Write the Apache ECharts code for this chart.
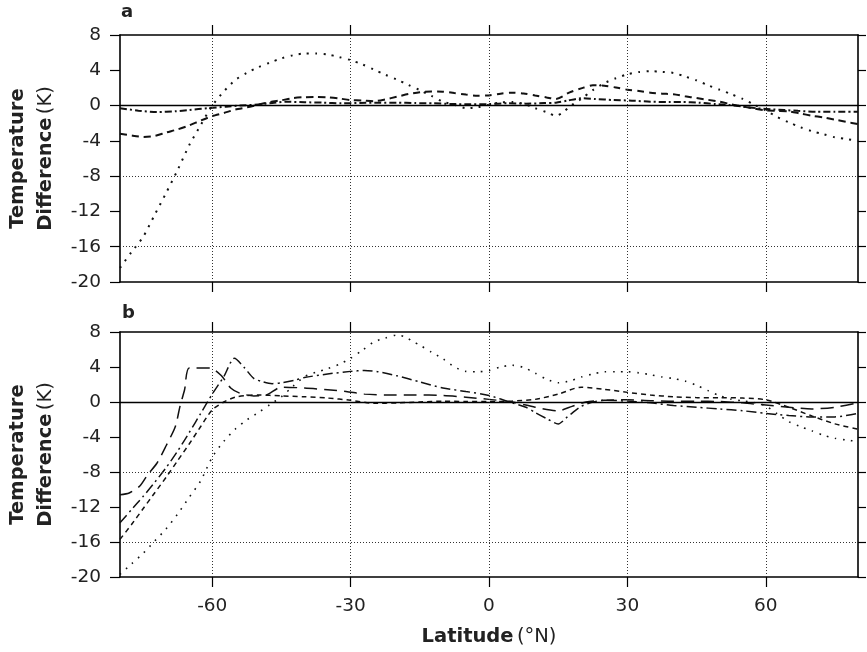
<!DOCTYPE html>
<html>
<head>
<meta charset="utf-8">
<script src="https://cdn.jsdelivr.net/npm/echarts@6.0.0/dist/echarts.min.js"></script>
<style>
  html, body { margin: 0; padding: 0; background: #fff; }
  #main { width: 867px; height: 652px; }
</style>
</head>
<body>
<div id="main"></div>
<script>
// tick positions
var latTicks = [-60, -30, 0, 30, 60];
var gridLinesY = [-8, -16];

// ---- panel a ----
var latA_dot = [-80,-77.5,-75,-72.5,-70,-67.5,-65,-62.5,-60,-57.5,-55,-52.5,-50,-47.5,-45,-42.5,-40,-37.5,-35,-32.5,-30,-27.5,-25,-22.5,-20,-17.5,-15,-12.5,-10,-7.5,-5,-2.5,0,2.5,5,7.5,10,12.5,14.5,16,17.5,20,22.5,25,27.5,30,32.5,35,37.5,40,42.5,45,47.5,50,52.5,55,57.5,60,62.5,65,67.5,70,72.5,75,77.5,80];
var valA_dot = [-18.4,-16.6,-14.9,-12.4,-9.9,-7.3,-4.5,-2.2,0.0,1.6,2.9,3.7,4.35,4.87,5.35,5.7,5.9,5.9,5.8,5.5,5.15,4.68,4.1,3.5,2.95,2.35,1.75,1.1,0.45,0.1,-0.3,-0.2,0.1,0.35,0.4,0.2,-0.3,-0.75,-1.15,-0.8,-0.1,0.75,1.75,2.55,3.1,3.55,3.8,3.9,3.82,3.7,3.3,2.85,2.3,1.8,1.3,0.75,0.1,-0.55,-1.3,-1.9,-2.45,-2.9,-3.25,-3.6,-3.8,-4.0];

var latA_dash = [-80,-78,-75,-72.5,-70,-67.5,-65,-62.5,-60,-57.5,-55,-52.5,-50,-47.5,-45,-42.5,-40,-37.5,-35,-32.5,-30,-27.5,-25,-22.5,-20,-17.5,-15,-12.5,-10,-7.5,-5,-2.5,0,2.5,5,7.5,10,12.5,14.5,17.5,20,22.5,25,27.5,30,32.5,35,37.5,40,42.5,45,47.5,50,52.5,55,57.5,60,62.5,65,67.5,70,72.5,75,77.5,80];
var valA_dash = [-3.2,-3.35,-3.55,-3.45,-3.05,-2.7,-2.25,-1.7,-1.2,-0.85,-0.45,-0.2,0.1,0.4,0.6,0.85,0.95,0.97,0.93,0.8,0.63,0.58,0.5,0.7,1.0,1.3,1.5,1.6,1.58,1.42,1.25,1.12,1.15,1.35,1.46,1.38,1.15,0.92,0.75,1.5,1.95,2.3,2.25,2.05,1.8,1.65,1.46,1.35,1.28,1.05,0.85,0.65,0.45,0.15,-0.1,-0.35,-0.55,-0.6,-0.65,-0.9,-1.15,-1.35,-1.6,-1.85,-2.1];

var latA_dashdot = [-80,-76,-72,-68,-65,-61,-57,-54,-50,-47,-44,-40,-36,-32,-28,-24,-20,-16,-12,-8,-4,0,4,8,12,14.5,17,20,23,27,31,35,39,42,45.5,49,52,55,58,61,64,67,71,75,80];
var valA_dashdot = [-0.3,-0.58,-0.73,-0.65,-0.5,-0.3,-0.12,0.0,0.12,0.3,0.44,0.38,0.33,0.26,0.3,0.33,0.33,0.28,0.26,0.18,0.15,0.17,0.26,0.22,0.28,0.33,0.56,0.83,0.75,0.63,0.56,0.44,0.4,0.4,0.33,0.18,0.07,-0.12,-0.3,-0.42,-0.5,-0.6,-0.69,-0.69,-0.7];

// ---- panel b ----
var latB_dot = [-80,-77.5,-75,-72.5,-70,-67.5,-65,-62.5,-60,-57.5,-55,-52.5,-50,-47.5,-45,-42.5,-40,-37.5,-35,-32.5,-30,-27.5,-25,-22.5,-20,-18,-16.5,-15,-12.5,-10,-7.5,-5,-2.5,0,2.5,5,7.5,10,12.5,15,17.5,20,22.5,25,27.5,30,32.5,35,37.5,40,42.5,45,47.5,50,52.5,55,57.5,60,62.5,65,67.5,70,72.5,75,77.5,80];
var valB_dot = [-19.7,-18.5,-17.3,-15.9,-14.5,-12.8,-10.9,-9.0,-6.3,-4.5,-3.1,-2.05,-1.2,-0.3,0.6,1.8,2.9,3.4,3.8,4.3,5.0,5.9,6.85,7.3,7.65,7.4,6.9,6.5,5.7,4.95,4.0,3.5,3.45,3.6,4.0,4.2,3.95,3.3,2.6,2.2,2.4,2.85,3.2,3.45,3.46,3.46,3.33,3.12,2.86,2.68,2.4,1.9,1.3,0.72,0.32,0.12,-0.05,-0.45,-1.35,-2.25,-2.8,-3.3,-3.8,-4.15,-4.35,-4.5];

var latB_long = [-80,-78,-75.7,-74,-72,-70,-68,-67,-66,-65,-60.5,-58,-56,-54,-51,-48.5,-45,-40,-35,-31,-27,-22,-16,-10,-5,0,5,10,15,18,21,25,30,35,40,45,50,55,60,65,70,75,80];
var valB_long = [-10.6,-10.4,-9.6,-8.3,-7.0,-5.0,-2.8,-0.5,1.4,3.9,3.9,3.0,1.6,1.0,0.7,0.75,1.7,1.6,1.4,1.2,0.9,0.8,0.8,0.75,0.55,0.3,0.0,-0.6,-1.0,-0.5,0.0,0.2,0.25,0.15,0.1,0.1,0.05,-0.1,-0.35,-0.6,-0.8,-0.6,-0.1];

var latB_dashdot = [-80,-77.5,-75,-72.5,-70,-67.5,-65,-62.5,-60,-57.5,-55.2,-53,-51,-49,-47,-45,-42,-40,-35,-30,-27,-24,-20,-15,-10,-5,0,5,8,10,12.5,15,17,20,22.5,25,30,35,40,45,50,55,60,65,70,75,80];
var valB_dashdot = [-13.8,-12.3,-10.8,-9.2,-7.5,-5.6,-3.5,-1.3,0.9,2.9,5.0,3.9,2.7,2.3,2.1,2.2,2.5,2.8,3.2,3.5,3.6,3.45,3.0,2.3,1.6,1.2,0.75,-0.1,-0.6,-1.2,-1.9,-2.5,-1.7,-0.5,0.0,0.2,0.1,-0.1,-0.4,-0.6,-0.8,-1.0,-1.3,-1.55,-1.7,-1.7,-1.3];

var latB_short = [-80,-77.5,-75,-72.5,-70,-67.5,-65,-62.5,-60,-57.5,-55,-52.5,-50,-45,-40,-35,-30,-25,-20,-15,-10,-5,0,5,10,15,20,25,30,35,40,45,50,55,60,65,70,75,80];
var valB_short = [-15.7,-14.0,-12.2,-10.4,-8.6,-6.7,-4.8,-2.8,-0.9,0.0,0.55,0.75,0.8,0.7,0.6,0.45,0.2,-0.15,-0.1,0.0,0.1,0.05,0.05,0.1,0.3,0.9,1.7,1.45,1.1,0.8,0.6,0.5,0.5,0.45,0.25,-0.6,-1.6,-2.5,-3.1];

var FONT = 'DejaVu Sans';
var INK = '#111';

function pairs(xs, ys) {
  return xs.map(function (x, i) { return [x, ys[i]]; });
}

var myChart = echarts.init(document.getElementById('main'), null, { renderer: 'canvas' });

function xAx(gi, pos, labels) {
  return {
    type: 'value', gridIndex: gi, position: pos, min: -80, max: 80,
    axisLine: { show: true, onZero: false, lineStyle: { color: '#000', width: 1.6 } },
    axisTick: { show: true, customValues: latTicks, length: 10, inside: false, lineStyle: { color: '#000', width: 1.2 } },
    axisLabel: { show: labels, customValues: latTicks, margin: 20, fontSize: 18.5, color: '#222', fontFamily: FONT },
    splitLine: { show: false },
    name: labels ? '{b|Latitude} {n|(°N)}' : '',
    nameLocation: 'middle', nameGap: 50,
    nameTextStyle: { rich: {
      b: { fontWeight: 'bold', fontSize: 19.5, fontFamily: FONT, color: '#222' },
      n: { fontSize: 19.5, fontFamily: FONT, color: '#222' }
    } }
  };
}

function yAx(gi, pos) {
  var left = pos === 'left';
  return {
    type: 'value', gridIndex: gi, position: pos, min: -20, max: 8, interval: 4,
    axisLine: { show: true, onZero: false, lineStyle: { color: '#000', width: 1.6 } },
    axisTick: { show: true, length: left ? 10 : 8, inside: false, lineStyle: { color: '#000', width: 1.2 } },
    axisLabel: { show: left, margin: 19, fontSize: 18.5, color: '#222', fontFamily: FONT },
    splitLine: { show: false },
    name: left ? '{b|Temperature}\n{b|Difference} {n|(K)}' : '',
    nameLocation: 'middle', nameGap: 60, nameRotate: 90,
    nameTextStyle: { rich: {
      b: { fontWeight: 'bold', fontSize: 19.5, fontFamily: FONT, lineHeight: 28, color: '#222' },
      n: { fontSize: 19.5, fontFamily: FONT, lineHeight: 28, color: '#222' }
    } }
  };
}

function guides() {
  var dotted = { color: '#333', width: 1, type: [1, 2] };
  var data = [];
  latTicks.forEach(function (v) { data.push({ xAxis: v, lineStyle: dotted }); });
  gridLinesY.forEach(function (v) { data.push({ yAxis: v, lineStyle: dotted }); });
  data.push({ yAxis: 0, lineStyle: { color: '#000', width: 1.3, type: 'solid' } });
  return { symbol: ['none', 'none'], silent: true, label: { show: false }, animation: false, data: data };
}

function line(gi, name, xs, ys, dash, width, withGuides) {
  var s = {
    name: name, type: 'line', xAxisIndex: gi * 2, yAxisIndex: gi * 2,
    data: pairs(xs, ys), showSymbol: false, smooth: 0.25,
    lineStyle: { color: INK, width: width, type: dash, cap: 'butt' },
    z: 3
  };
  if (withGuides) s.markLine = guides();
  return s;
}

var option = {
  animation: false,
  backgroundColor: '#fff',
  grid: [
    { left: 119, top: 35, width: 739, height: 247 },
    { left: 119, top: 332, width: 739, height: 245 }
  ],
  xAxis: [xAx(0, 'bottom', false), xAx(0, 'top', false), xAx(1, 'bottom', true), xAx(1, 'top', false)],
  yAxis: [yAx(0, 'left'), yAx(0, 'right'), yAx(1, 'left'), yAx(1, 'right')],
  graphic: [
    { type: 'text', left: 121, top: 3, style: { text: 'a', font: 'bold 18px "DejaVu Sans"', fill: '#222' } },
    { type: 'text', left: 122, top: 304, style: { text: 'b', font: 'bold 18px "DejaVu Sans"', fill: '#222' } }
  ],
  series: [
    line(0, 'a-dotted', latA_dot, valA_dot, [2, 6.3], 2, true),
    line(0, 'a-dashed', latA_dash, valA_dash, [7, 5], 2, false),
    line(0, 'a-dashdot', latA_dashdot, valA_dashdot, [7, 3, 2, 3], 2, false),
    line(1, 'b-dotted', latB_dot, valB_dot, [1.6, 6.5], 1.6, true),
    line(1, 'b-longdash', latB_long, valB_long, [13, 7], 1.5, false),
    line(1, 'b-dashdot', latB_dashdot, valB_dashdot, [10, 4, 2, 4], 1.5, false),
    line(1, 'b-shortdash', latB_short, valB_short, [5, 4], 1.5, false)
  ]
};
myChart.setOption(option);
</script>
</body>
</html>
